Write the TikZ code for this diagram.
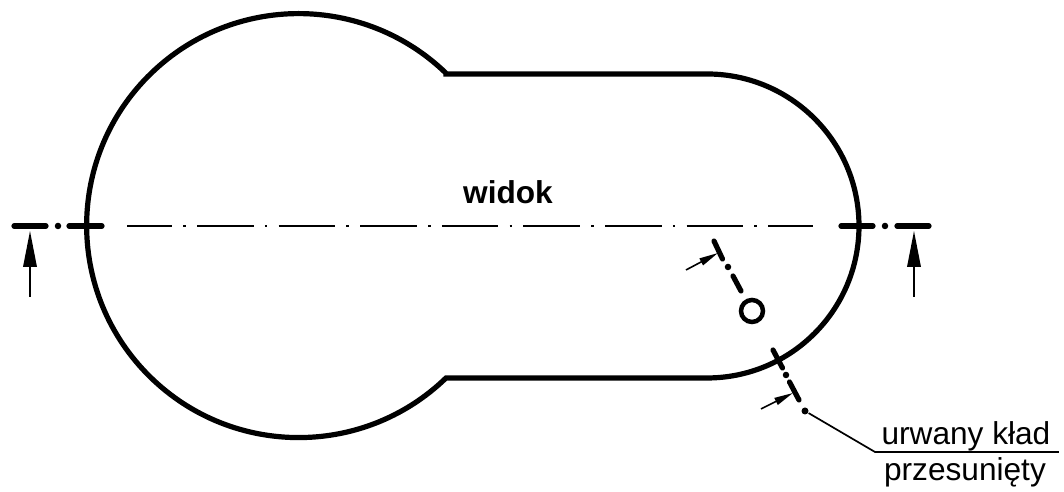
\documentclass[tikz,border=0pt]{standalone}
\usepackage{fontspec}
\setmainfont{Liberation Sans}
\usetikzlibrary{arrows.meta}
\tikzset{
  contour/.style={line width=0.052cm},
  cutline/.style={line width=0.052cm,line cap=round},
  centerline/.style={line width=0.018cm,dash pattern=on 0.565cm off 0.113cm on 0.025cm off 0.113cm,dash phase=0.116cm},
  sight/.style={line width=0.018cm,-{Triangle[length=0.36cm,width=0.135cm]}},
  smallsight/.style={line width=0.016cm,-{Triangle[length=0.19cm,width=0.075cm]}},
  thinline/.style={line width=0.017cm},
  point/.style={circle,fill,inner sep=0pt},
  label/.style={anchor=base,font=\fontsize{9}{9}\selectfont}
}

\begin{document}
\begin{tikzpicture}
      \useasboundingbox (0,0) rectangle (10.64,4.92);

      \path
      (4.46,4.18) coordinate(topjoin)
      (7.07,4.18) coordinate(topend)
      (7.07,1.14) coordinate(botend)
      (4.46,1.14) coordinate(botjoin)
      ;
      \draw[contour] (topjoin) -- (topend) arc (90:-90:1.52) -- (botjoin)
        arc (-45.96:-314.04:2.12) -- cycle;

      \path
      (1.27,2.66) coordinate(axisl)
      (8.13,2.66) coordinate(axisr)
      ;
      \draw[centerline] (axisl) -- (axisr);

      % section plane on the axis
      \path
      (0.14,2.66) coordinate(ll1)
      (0.46,2.66) coordinate(ll2)
      (0.69,2.66) coordinate(ll3)
      (1.02,2.66) coordinate(ll4)
      (8.41,2.66) coordinate(rr1)
      (8.73,2.66) coordinate(rr2)
      (8.97,2.66) coordinate(rr3)
      (9.29,2.66) coordinate(rr4)
      (0.58,2.66) node[point,minimum size=0.065cm](ldot) {}
      (8.85,2.66) node[point,minimum size=0.065cm](rdot) {}
      ;
      \draw[cutline] (ll1) -- (ll2);
      \draw[cutline] (ll3) -- (ll4);
      \draw[cutline] (rr1) -- (rr2);
      \draw[cutline] (rr3) -- (rr4);

      \path
      (0.30,1.95) coordinate(la)
      (0.30,2.61) coordinate(lb)
      (9.14,1.95) coordinate(ra)
      (9.14,2.61) coordinate(rb)
      ;
      \draw[sight] (la) -- (lb);
      \draw[sight] (ra) -- (rb);

      % upper broken section
      \path
      (7.14,2.51) coordinate(u1)
      (7.225,2.33) coordinate(u2)
      (7.33,2.16) coordinate(u3)
      (7.41,2.01) coordinate(u4)
      (7.28,2.25) node[point,minimum size=0.065cm](udot) {}
      (7.52,1.81) node[circle,draw,line width=0.045cm,minimum size=0.22cm,inner sep=0pt](hole) {}
      (6.86,2.22) coordinate(ua)
      (7.18,2.39) coordinate(ub)
      ;
      \draw[cutline] (u1) -- (u2);
      \draw[cutline] (u3) -- (u4);
      \draw[smallsight] (ua) -- (ub);

      % lower broken section
      \path
      (7.73,1.42) coordinate(d1)
      (7.825,1.24) coordinate(d2)
      (7.895,1.10) coordinate(d3)
      (7.99,0.92) coordinate(d4)
      (7.86,1.17) node[point,minimum size=0.065cm](ddot) {}
      (7.61,0.83) coordinate(da)
      (7.93,0.99) coordinate(db)
      ;
      \draw[cutline] (d1) -- (d2);
      \draw[cutline] (d3) -- (d4);
      \draw[smallsight] (da) -- (db);

      \path
      (8.05,0.81) node[point,minimum size=0.07cm](lead) {}
      (8.75,0.40) coordinate(kink)
      (10.59,0.40) coordinate(shelf)
      ;
      \draw[thinline] (lead) -- (kink) -- (shelf);

      \node[label] (view) at (5.08,2.88) {\textbf{widok}};
      \node[label] (line1) at (9.66,0.47) {urwany kład};
      \node[label] (line2) at (9.65,0.11) {przesunięty};
\end{tikzpicture}
\end{document}
